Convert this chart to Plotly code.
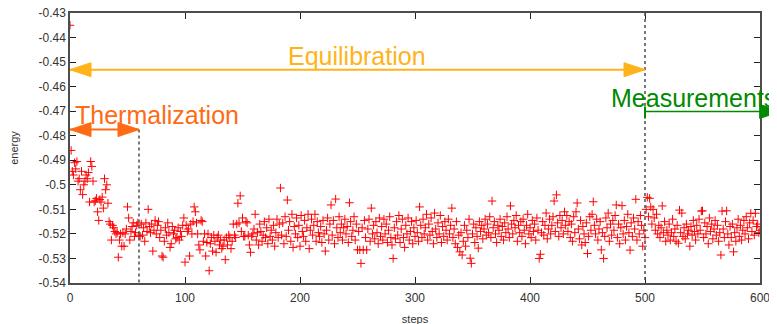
import plotly.graph_objects as go

# ---------------- data ----------------
energy_thermalization = [  # steps 0..60
    -0.4350, -0.4860, -0.4945, -0.4960, -0.4910, -0.4935, -0.4905, -0.4985, -0.4975, -0.5020,
    -0.4945, -0.5040, -0.5000, -0.4985, -0.4960, -0.4975, -0.4950, -0.5070, -0.4905, -0.4925,
    -0.4985, -0.5070, -0.5065, -0.5055, -0.5110, -0.5145, -0.5060, -0.5070, -0.5050, -0.5095,
    -0.4975, -0.5020, -0.5000, -0.5075, -0.5150, -0.5160, -0.5225, -0.5165, -0.5175, -0.5190,
    -0.5200, -0.5195, -0.5295, -0.5225, -0.5200, -0.5250, -0.5195, -0.5250, -0.5200, -0.5180,
    -0.5090, -0.5135, -0.5225, -0.5190, -0.5170, -0.5155, -0.5210, -0.5195, -0.5165, -0.5155,
    -0.5205,
]

energy_equilibration = [  # steps 61..500
    -0.5210, -0.5160, -0.5205, -0.5175, -0.5230, -0.5155, -0.5190, -0.5100, -0.5170, -0.5195,
    -0.5160, -0.5270, -0.5185, -0.5145, -0.5200, -0.5165, -0.5150, -0.5215, -0.5185, -0.5290,
    -0.5295, -0.5230, -0.5175, -0.5205, -0.5155, -0.5195, -0.5255, -0.5240, -0.5170, -0.5200,
    -0.5185, -0.5220, -0.5215, -0.5175, -0.5225, -0.5190, -0.5210, -0.5165, -0.5135, -0.5315,
    -0.5165, -0.5190, -0.5180, -0.5290, -0.5160, -0.5200, -0.5150, -0.5090, -0.5110, -0.5155,
    -0.5200, -0.5245, -0.5265, -0.5145, -0.5150, -0.5230, -0.5200, -0.5290, -0.5235, -0.5200,
    -0.5350, -0.5240, -0.5215, -0.5270, -0.5205, -0.5230, -0.5275, -0.5215, -0.5205, -0.5245,
    -0.5225, -0.5260, -0.5250, -0.5225, -0.5305, -0.5215, -0.5245, -0.5205, -0.5215, -0.5260,
    -0.5230, -0.5160, -0.5205, -0.5215, -0.5160, -0.5075, -0.5155, -0.5045, -0.5190, -0.5135,
    -0.5210, -0.5210, -0.5150, -0.5155, -0.5205, -0.5245, -0.5275, -0.5210, -0.5200, -0.5180,
    -0.5120, -0.5225, -0.5195, -0.5245, -0.5160, -0.5190, -0.5230, -0.5205, -0.5150, -0.5215,
    -0.5175, -0.5240, -0.5140, -0.5210, -0.5185, -0.5225, -0.5165, -0.5250, -0.5195, -0.5140,
    -0.5215, -0.5160, -0.5013, -0.5205, -0.5155, -0.5240, -0.5130, -0.5210, -0.5062, -0.5185,
    -0.5150, -0.5230, -0.5120, -0.5255, -0.5170, -0.5200, -0.5135, -0.5215, -0.5165, -0.5250,
    -0.5125, -0.5190, -0.5210, -0.5145, -0.5230, -0.5175, -0.5120, -0.5260, -0.5185, -0.5140,
    -0.5205, -0.5165, -0.5120, -0.5230, -0.5150, -0.5195, -0.5210, -0.5170, -0.5235, -0.5145,
    -0.5200, -0.5270, -0.5185, -0.5135, -0.5225, -0.5160, -0.5082, -0.5205, -0.5145, -0.5240,
    -0.5058, -0.5175, -0.5215, -0.5130, -0.5195, -0.5160, -0.5225, -0.5175, -0.5140, -0.5200,
    -0.5170, -0.5235, -0.5073, -0.5150, -0.5210, -0.5185, -0.5130, -0.5225, -0.5160, -0.5265,
    -0.5190, -0.5265, -0.5320, -0.5175, -0.5265, -0.5145, -0.5215, -0.5265, -0.5180, -0.5140,
    -0.5230, -0.5095, -0.5200, -0.5165, -0.5220, -0.5150, -0.5195, -0.5240, -0.5135, -0.5210,
    -0.5170, -0.5225, -0.5140, -0.5200, -0.5160, -0.5235, -0.5185, -0.5130, -0.5215, -0.5245,
    -0.5300, -0.5175, -0.5220, -0.5150, -0.5205, -0.5125, -0.5235, -0.5180, -0.5140, -0.5215,
    -0.5255, -0.5165, -0.5200, -0.5135, -0.5225, -0.5190, -0.5150, -0.5240, -0.5175, -0.5210,
    -0.5145, -0.5195, -0.5230, -0.5090, -0.5165, -0.5215, -0.5140, -0.5200, -0.5175, -0.5120,
    -0.5225, -0.5160, -0.5205, -0.5135, -0.5190, -0.5240, -0.5115, -0.5180, -0.5215, -0.5155,
    -0.5200, -0.5125, -0.5235, -0.5170, -0.5210, -0.5150, -0.5185, -0.5225, -0.5140, -0.5200,
    -0.5165, -0.5095, -0.5215, -0.5180, -0.5240, -0.5150, -0.5255, -0.5205, -0.5273, -0.5195,
    -0.5286, -0.5230, -0.5165, -0.5250, -0.5185, -0.5215, -0.5140, -0.5299, -0.5320, -0.5200,
    -0.5160, -0.5235, -0.5175, -0.5210, -0.5258, -0.5150, -0.5190, -0.5165, -0.5220, -0.5180,
    -0.5140, -0.5205, -0.5160, -0.5195, -0.5130, -0.5215, -0.5066, -0.5175, -0.5150, -0.5200,
    -0.5235, -0.5165, -0.5185, -0.5140, -0.5210, -0.5170, -0.5225, -0.5155, -0.5195, -0.5130,
    -0.5180, -0.5215, -0.5086, -0.5160, -0.5200, -0.5145, -0.5175, -0.5125, -0.5230, -0.5165,
    -0.5195, -0.5150, -0.5210, -0.5140, -0.5185, -0.5240, -0.5165, -0.5120, -0.5200, -0.5175,
    -0.5215, -0.5145, -0.5190, -0.5160, -0.5225, -0.5135, -0.5185, -0.5300, -0.5283, -0.5195,
    -0.5150, -0.5205, -0.5165, -0.5115, -0.5220, -0.5180, -0.5140, -0.5200, -0.5165, -0.5130,
    -0.5066, -0.5190, -0.5041, -0.5155, -0.5210, -0.5125, -0.5175, -0.5145, -0.5200, -0.5110,
    -0.5165, -0.5125, -0.5190, -0.5150, -0.5215, -0.5160, -0.5230, -0.5130, -0.5195, -0.5110,
    -0.5074, -0.5180, -0.5220, -0.5145, -0.5245, -0.5170, -0.5200, -0.5235, -0.5155, -0.5280,
    -0.5210, -0.5130, -0.5185, -0.5120, -0.5069, -0.5165, -0.5200, -0.5140, -0.5225, -0.5180,
    -0.5150, -0.5265, -0.5195, -0.5300, -0.5210, -0.5135, -0.5175, -0.5115, -0.5230, -0.5160,
    -0.5205, -0.5145, -0.5185, -0.5125, -0.5082, -0.5215, -0.5160, -0.5240, -0.5175, -0.5085,
    -0.5200, -0.5145, -0.5225, -0.5170, -0.5120, -0.5195, -0.5266, -0.5155, -0.5210, -0.5135,
    -0.5180, -0.5059, -0.5225, -0.5150, -0.5200, -0.5125, -0.5165, -0.5250, -0.5185, -0.5215,
]

energy_measurement = [  # steps 501..600
    -0.5100, -0.5051, -0.5130, -0.5055, -0.5090, -0.5160, -0.5100, -0.5135, -0.5185, -0.5120,
    -0.5200, -0.5165, -0.5215, -0.5175, -0.5086, -0.5195, -0.5150, -0.5230, -0.5185, -0.5205,
    -0.5160, -0.5225, -0.5195, -0.5140, -0.5210, -0.5180, -0.5230, -0.5165, -0.5238, -0.5103,
    -0.5195, -0.5115, -0.5210, -0.5175, -0.5220, -0.5160, -0.5200, -0.5185, -0.5250, -0.5170,
    -0.5205, -0.5145, -0.5190, -0.5225, -0.5165, -0.5200, -0.5140, -0.5185, -0.5107, -0.5106,
    -0.5215, -0.5155, -0.5200, -0.5170, -0.5240, -0.5135, -0.5190, -0.5160, -0.5220, -0.5180,
    -0.5145, -0.5205, -0.5165, -0.5230, -0.5195, -0.5286, -0.5107, -0.5180, -0.5215, -0.5150,
    -0.5106, -0.5200, -0.5245, -0.5170, -0.5215, -0.5160, -0.5273, -0.5195, -0.5230, -0.5175,
    -0.5140, -0.5210, -0.5165, -0.5225, -0.5185, -0.5145, -0.5200, -0.5130, -0.5175, -0.5220,
    -0.5155, -0.5116, -0.5190, -0.5145, -0.5205, -0.5116, -0.5170, -0.5160, -0.5195, -0.5185,
]

energy = energy_thermalization + energy_equilibration + energy_measurement
steps = list(range(len(energy)))

x_range = [0, 600]
y_range = [-0.54, -0.43]
x_ticks = [0, 100, 200, 300, 400, 500, 600]
y_ticks = [-0.54, -0.53, -0.52, -0.51, -0.5, -0.49, -0.48, -0.47, -0.46, -0.45, -0.44, -0.43]
y_tick_text = ["-0.54", "-0.53", "-0.52", "-0.51", "-0.5", "-0.49", "-0.48", "-0.47",
               "-0.46", "-0.45", "-0.44", "-0.43"]

thermal_end = 60
equil_end = 500
measure_end_paper = 1.030   # arrow runs past the right border
equil_y = -0.4531
thermal_y = -0.4775
measure_y = -0.4701

C_EQ = "#ffb31a"
C_TH = "#ff6a14"
C_ME = "#008a00"
C_AX = "#4d4d4d"


def px(x):
    return (x - x_range[0]) / (x_range[1] - x_range[0])


def py(y):
    return (y - y_range[0]) / (y_range[1] - y_range[0])


fig = go.Figure()
fig.add_trace(go.Scatter(
    x=steps, y=energy, mode="markers",
    marker=dict(symbol="cross-thin", size=6, line=dict(color="red", width=1), color="red"),
    showlegend=False, cliponaxis=True,
))

HEAD_L = 21
HEAD_W = 7


def head(xref, yref, xa, ya, color, direction):
    d = -1 if direction == "right" else 1
    return dict(type="path", xref=xref, yref=yref, xsizemode="pixel", ysizemode="pixel",
                xanchor=xa, yanchor=ya,
                path=f"M0,0 L{d*HEAD_L},{HEAD_W} L{d*HEAD_L},{-HEAD_W} Z",
                fillcolor=color, line=dict(color=color, width=1), layer="above")


shapes = [
    dict(type="line", xref="x", yref="y", x0=thermal_end, x1=thermal_end,
         y0=thermal_y, y1=y_range[0], line=dict(color=C_AX, width=1.5, dash="dot")),
    dict(type="line", xref="x", yref="y", x0=equil_end, x1=equil_end,
         y0=y_range[1], y1=y_range[0], line=dict(color=C_AX, width=1.5, dash="dot")),
    dict(type="line", xref="x", yref="y", x0=0, x1=equil_end, y0=equil_y, y1=equil_y,
         line=dict(color=C_EQ, width=2)),
    head("x", "y", 0, equil_y, C_EQ, "left"),
    head("x", "y", equil_end, equil_y, C_EQ, "right"),
    dict(type="line", xref="x", yref="y", x0=0, x1=thermal_end, y0=thermal_y, y1=thermal_y,
         line=dict(color=C_TH, width=2)),
    head("x", "y", 0, thermal_y, C_TH, "left"),
    head("x", "y", thermal_end, thermal_y, C_TH, "right"),
    dict(type="line", xref="paper", yref="paper", x0=px(equil_end), x1=measure_end_paper,
         y0=py(measure_y), y1=py(measure_y), line=dict(color=C_ME, width=1.5)),
    dict(type="line", xref="paper", yref="paper", xsizemode="pixel", ysizemode="pixel",
         xanchor=px(equil_end), yanchor=py(measure_y), x0=0, x1=0, y0=-7, y1=5,
         line=dict(color=C_ME, width=2)),
    head("paper", "paper", measure_end_paper, py(measure_y), C_ME, "right"),
]

FONT = "Liberation Sans, Arial, sans-serif"
annotations = [
    dict(text="Equilibration", x=188, y=-0.4476, xref="x", yref="y", xanchor="left",
         yanchor="middle", showarrow=False, font=dict(family=FONT, size=25, color=C_EQ)),
    dict(text="Thermalization", x=3, y=-0.4716, xref="x", yref="y", xanchor="left",
         yanchor="middle", showarrow=False, font=dict(family=FONT, size=25, color=C_TH)),
    dict(text="Measurements", x=469, y=-0.4648, xref="x", yref="y", xanchor="left",
         yanchor="middle", showarrow=False, font=dict(family=FONT, size=25, color=C_ME)),
]

axis_common = dict(
    showgrid=False, zeroline=False, showline=True, linecolor=C_AX, linewidth=1.5,
    mirror="ticks", ticks="inside", ticklen=6, tickwidth=1, tickcolor="#222",
    tickfont=dict(family=FONT, size=12, color="#333"), automargin=False,
    ticklabeloverflow="allow",
)

# the page body adds an 8 px offset, so margins are reduced by 8 px on the left/top
fig.update_layout(
    width=777, height=324,
    margin=dict(l=62, r=25, t=5, b=49, autoexpand=False),
    paper_bgcolor="white", plot_bgcolor="white",
    shapes=shapes, annotations=annotations, showlegend=False,
    xaxis=dict(range=x_range, tickvals=x_ticks, **axis_common, ticklabelstandoff=3,
               title=dict(text="steps", font=dict(family=FONT, size=11, color="#333"),
                          standoff=11)),
    yaxis=dict(range=y_range, tickvals=y_ticks, ticktext=y_tick_text, **axis_common,
               title=dict(text="energy", font=dict(family=FONT, size=11, color="#333"),
                          standoff=21)),
)

fig.write_html("out.html")
